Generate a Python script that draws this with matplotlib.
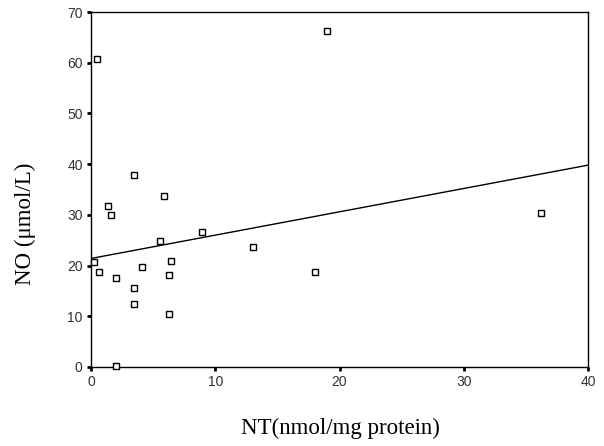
import matplotlib
matplotlib.use('Agg')
import numpy as np
import matplotlib.pyplot as plt

# NT (nmol/mg protein) and NO (umol/L)
nt = [0.48, 19.0, 36.2, 18.0, 1.34, 1.58, 3.5, 5.87, 0.24, 0.64, 1.99,
      3.5, 3.5, 4.13, 5.55, 6.3, 6.46, 6.3, 8.9, 13.0, 1.99]
no = [60.7, 66.2, 30.3, 18.8, 31.8, 30.0, 37.8, 33.7, 20.7, 18.8, 17.5,
      15.6, 12.4, 19.7, 24.9, 18.1, 20.9, 10.5, 26.6, 23.7, 0.1]

# fitted line as shown in the figure
fit_intercept = 21.4
fit_slope = 0.46

x_ticks = [0, 10, 20, 30, 40]
y_ticks = [0, 10, 20, 30, 40, 50, 60, 70]

fig = plt.figure(figsize=(6.04, 4.46), dpi=100)
ax = fig.add_axes([91/604, 1 - 367/446, 497/604, 355/446])

ax.plot(nt, no, linestyle='none', marker='s', markersize=4.3,
        markerfacecolor='white', markeredgecolor='black',
        markeredgewidth=1.0, clip_on=False, zorder=3)

line_x = np.array([0, 40])
ax.plot(line_x, fit_intercept + fit_slope * line_x, color='black', linewidth=1.0)

ax.set_xlim(0, 40)
ax.set_ylim(0, 70)
ax.set_xticks(x_ticks)
ax.set_yticks(y_ticks)
ax.tick_params(direction='out', length=3, width=2, labelsize=10, pad=3,
               labelcolor='#333333')
for s in ax.spines.values():
    s.set_linewidth(1.0)
    s.set_color('black')
for lbl in ax.get_xticklabels() + ax.get_yticklabels():
    lbl.set_fontfamily('Liberation Sans')

fig.text(340/604, 1 - 428/446, 'NT(nmol/mg protein)', ha='center', va='center',
         fontsize=16.5, family='Liberation Serif')
fig.text(25/604, 1 - 224/446, 'NO (\u03bcmol/L)', ha='center', va='center',
         rotation=90, fontsize=16.5, family='Liberation Serif')

fig.savefig('out.png', dpi=100)
